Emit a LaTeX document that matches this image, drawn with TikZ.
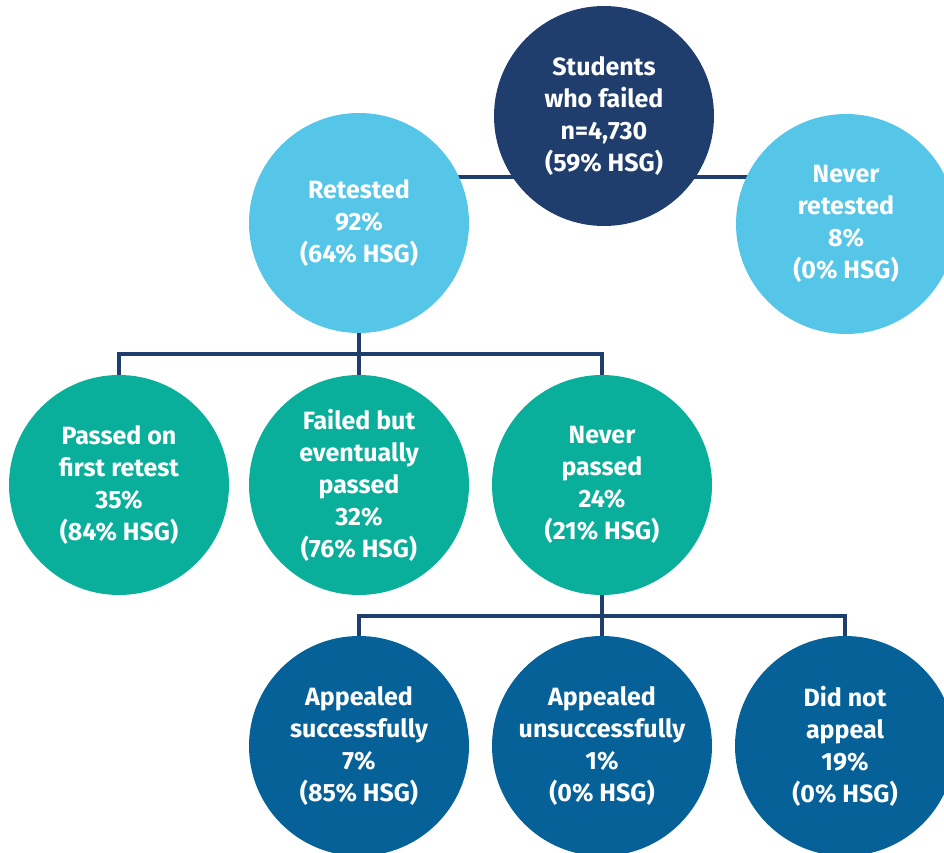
\documentclass[tikz,border=0pt]{standalone}
\usepackage{fontspec}
\setmainfont{Fira Sans}
\usetikzlibrary{backgrounds}
\definecolor{navy}{HTML}{1F3D6D}
\definecolor{lightblue}{HTML}{55C6E8}
\definecolor{teal}{HTML}{09AF9A}
\definecolor{deepblue}{HTML}{056198}
\tikzset{
  circ/.style={circle, minimum size=220pt, inner sep=0pt, align=center, text=white,
    font=\fontsize{25}{32}\selectfont\bfseries},
  topc/.style={circ, fill=navy},
  lbc/.style={circ, fill=lightblue},
  tlc/.style={circ, fill=teal},
  dbc/.style={circ, fill=deepblue},
  link/.style={draw=navy, line width=3.5pt}
}
\begin{document}
\begin{tikzpicture}[x=1pt,y=-1pt]
\useasboundingbox (0,0) rectangle (944,853);
\clip (0,0) rectangle (944,853);
\node[topc] (top) at (604,116) {Students\\who failed\\n=4,730\\(59\% HSG)};
\node[lbc] (ret) at (359,223) {Retested\\92\%\\(64\% HSG)};
\node[lbc] (nret) at (846,224) {Never\\retested\\8\%\\(0\% HSG)};
\node[tlc] (pass) at (119,485) {Passed on\\first retest\\35\%\\(84\% HSG)};
\node[tlc] (fail) at (359,485) {Failed but\\eventually\\passed\\32\%\\(76\% HSG)};
\node[tlc] (np) at (602,485) {Never\\passed\\24\%\\(21\% HSG)};
\node[dbc] (as) at (359,746) {Appealed\\successfully\\7\%\\(85\% HSG)};
\node[dbc] (au) at (602,746) {Appealed\\unsuccessfully\\1\%\\(0\% HSG)};
\node[dbc] (dna) at (845,746) {Did not\\appeal\\19\%\\(0\% HSG)};
\coordinate (bus1) at (359,354);
\coordinate (bus2) at (602,616);
\begin{scope}[on background layer]
\draw[link] ([yshift=46pt]ret.center) -- ([yshift=47pt]nret.center);
\draw[link] (ret.center) -- (fail.center);
\draw[link] (pass.center) |- (bus1) -| (np.center);
\draw[link] (np.center) -- (au.center);
\draw[link] (as.center) |- (bus2) -| (dna.center);
\end{scope}
\end{tikzpicture}
\end{document}
